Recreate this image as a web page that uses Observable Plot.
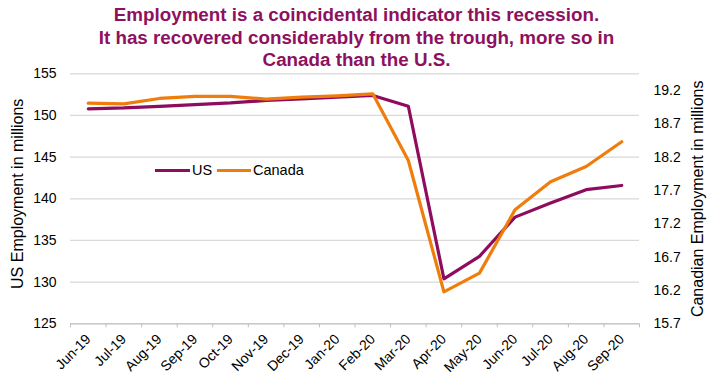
<!DOCTYPE html>
<html><head><meta charset="utf-8">
<script src="https://cdn.jsdelivr.net/npm/d3@7"></script>
<script src="https://cdn.jsdelivr.net/npm/@observablehq/plot@0.6"></script>
<style>
body{margin:0;background:#fff;font-family:"Liberation Sans",Arial,sans-serif;}
#wrap{position:relative;width:713px;height:382px;overflow:hidden;background:#fff;}
#title{position:absolute;top:4px;left:0;width:713px;text-align:center;font-weight:bold;font-size:18.8px;line-height:22.5px;color:#8E1060;}
#chart{position:absolute;top:62px;left:0;}
#chart svg{overflow:visible;}
.lg{position:absolute;font-size:14.5px;color:#000;line-height:16px;}
.sw{position:absolute;height:3px;}
</style></head>
<body>
<div id="wrap">
  <div id="title">Employment is a coincidental indicator this recession.<br>It has recovered considerably from the trough, more so in<br>Canada than the U.S.</div>
  <div id="chart"></div>
  <div class="sw" style="left:155px;top:169px;width:35px;background:#8E0C5E"></div>
  <div class="lg" style="left:192px;top:162px">US</div>
  <div class="sw" style="left:217px;top:169px;width:34px;background:#EF7D0B"></div>
  <div class="lg" style="left:253px;top:162px">Canada</div>
</div>
<script>
const months = ["Jun-19","Jul-19","Aug-19","Sep-19","Oct-19","Nov-19","Dec-19","Jan-20","Feb-20","Mar-20","Apr-20","May-20","Jun-20","Jul-20","Aug-20","Sep-20"];
const usEmployment = [150.8,150.9,151.1,151.3,151.5,151.8,152.0,152.2,152.4,151.1,130.4,133.1,137.8,139.5,141.1,141.6];
const canadaEmployment = [19.01,19.00,19.08,19.11,19.11,19.07,19.10,19.12,19.15,18.15,16.18,16.46,17.41,17.83,18.06,18.43];
const usTicks = [125,130,135,140,145,150,155];
const canadaTicks = [15.7,16.2,16.7,17.2,17.7,18.2,18.7,19.2];
const usDomain = [125,155];
const canadaDomain = [15.7,19.45];

const k = (usDomain[1]-usDomain[0])/(canadaDomain[1]-canadaDomain[0]);
const toLeft = c => usDomain[0] + (c - canadaDomain[0]) * k;
const fromLeft = v => canadaDomain[0] + (v - usDomain[0]) / k;
const data = months.map((m,i)=>({i, m, us: usEmployment[i], ca: toLeft(canadaEmployment[i])}));
const font = "Liberation Sans, Arial, sans-serif";

const chart = Plot.plot({
  width:713, height:320,
  marginTop:11.3, marginBottom:58.7, marginLeft:70, marginRight:74,
  x:{type:"linear", domain:[-0.5, months.length-0.5]},
  y:{domain:usDomain},
  style:{fontFamily:font, fontSize:"14px", color:"#000", background:"transparent", overflow:"visible"},
  marks:[
    Plot.gridY(usTicks, {stroke:"#d9d9d9", strokeOpacity:1, strokeWidth:1.2}),
    Plot.axisY(usTicks, {anchor:"left", tickSize:0, tickPadding:14, label:null, fontSize:14}),
    Plot.axisY(canadaTicks.map(toLeft), {anchor:"right", tickSize:0, tickPadding:14, label:null, fontSize:14, tickFormat:v=>fromLeft(v).toFixed(1)}),
    Plot.ruleY([usDomain[0]], {stroke:"#bfbfbf"}),
    Plot.axisX(d3.range(-0.5, months.length), {tickSize:4, stroke:"#bfbfbf", strokeOpacity:1, tickFormat:()=>"", label:null}),
    Plot.axisX(d3.range(months.length), {tickSize:0, tickPadding:13, tickRotate:-45, fontSize:14, label:null, tickFormat:i=>months[i]}),
    Plot.line(data, {x:"i", y:"us", stroke:"#8E0C5E", strokeWidth:3.2}),
    Plot.line(data, {x:"i", y:"ca", stroke:"#EF7D0B", strokeWidth:3.2}),
    Plot.text(["US Employment in millions"], {text:d=>d, frameAnchor:"left", textAnchor:"middle", dx:-52.5, dy:-5, rotate:-90, fontSize:16}),
    Plot.text(["Canadian Employment in millions"], {text:d=>d, frameAnchor:"right", textAnchor:"middle", dx:58, rotate:-90, fontSize:16})
  ]
});
document.getElementById("chart").appendChild(chart);
</script>
</body></html>
